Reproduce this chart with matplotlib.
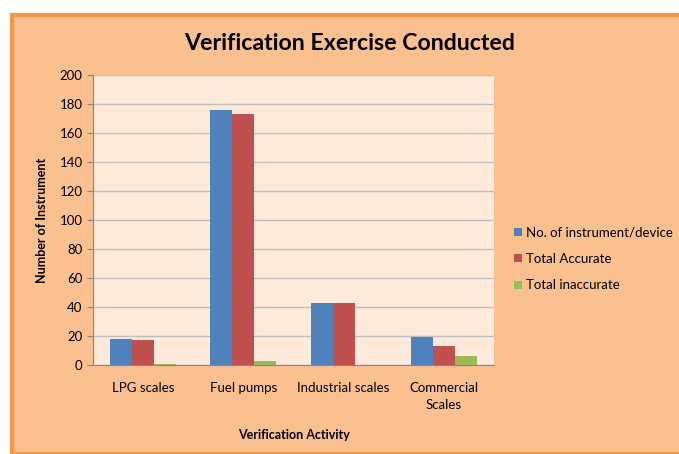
import matplotlib
matplotlib.use("Agg")
import matplotlib.pyplot as plt
from matplotlib.patches import Rectangle
import numpy as np

categories = ["LPG scales", "Fuel pumps", "Industrial scales", "Commercial\nScales"]
series_names = ["No. of instrument/device", "Total Accurate", "Total inaccurate"]
instruments = [18, 176, 43, 19]
accurate = [17, 173, 43, 13]
inaccurate = [1, 3, 0, 6]
colors = ["#4F81BD", "#C0504D", "#9BBB59"]

plt.rcParams['font.family'] = ['Lato', 'DejaVu Sans']

fig = plt.figure(figsize=(6.79, 4.54), dpi=100)
fig.patch.set_facecolor("white")
# chart frame
fig.patches.append(Rectangle((12/679, 0), 1, 1 - 15/454, transform=fig.transFigure,
                             facecolor="#FAC090", edgecolor="#F79646", linewidth=3, zorder=-10))

ax = fig.add_axes([93/679, 89/454, 401/679, 290/454])
ax.set_facecolor("#FDEADA")
x = np.arange(len(categories))
w = 0.22
for i, (vals, name) in enumerate(zip([instruments, accurate, inaccurate], series_names)):
    ax.bar(x + (i - 1) * w, vals, width=w, color=colors[i], label=name, zorder=3)

ax.set_xlim(-0.5, 3.5)
ax.set_ylim(0, 200)
ax.set_yticks(range(0, 201, 20))
ax.yaxis.grid(True, color="#BFBFBF", linewidth=1, zorder=0)
ax.set_xticks(x)
ax.set_xticklabels(categories, fontsize=9.5, linespacing=1.5)
ax.tick_params(axis='x', length=0, pad=12)
ax.tick_params(axis='y', labelsize=9.5, length=4, color="#868686")
for s in ["top", "right"]:
    ax.spines[s].set_visible(False)
ax.spines["left"].set_color("#868686")
ax.spines["bottom"].set_color("#868686")

ax.set_ylabel("Number of Instrument", fontsize=9, fontweight="bold", labelpad=8)
ax.set_xlabel("Verification Activity", fontsize=9, fontweight="bold", labelpad=13)
fig.text(0.515, 1 - 44/454, "Verification Exercise Conducted", ha="center", va="center",
         fontsize=16.7, fontweight="bold")

ax.legend(loc="center left", bbox_to_anchor=(1.02, 0.366), frameon=False, fontsize=9.5,
          handlelength=0.6, handleheight=0.6, handletextpad=0.3, labelspacing=1.1)

fig.savefig("out.png", dpi=100, facecolor=fig.get_facecolor())
